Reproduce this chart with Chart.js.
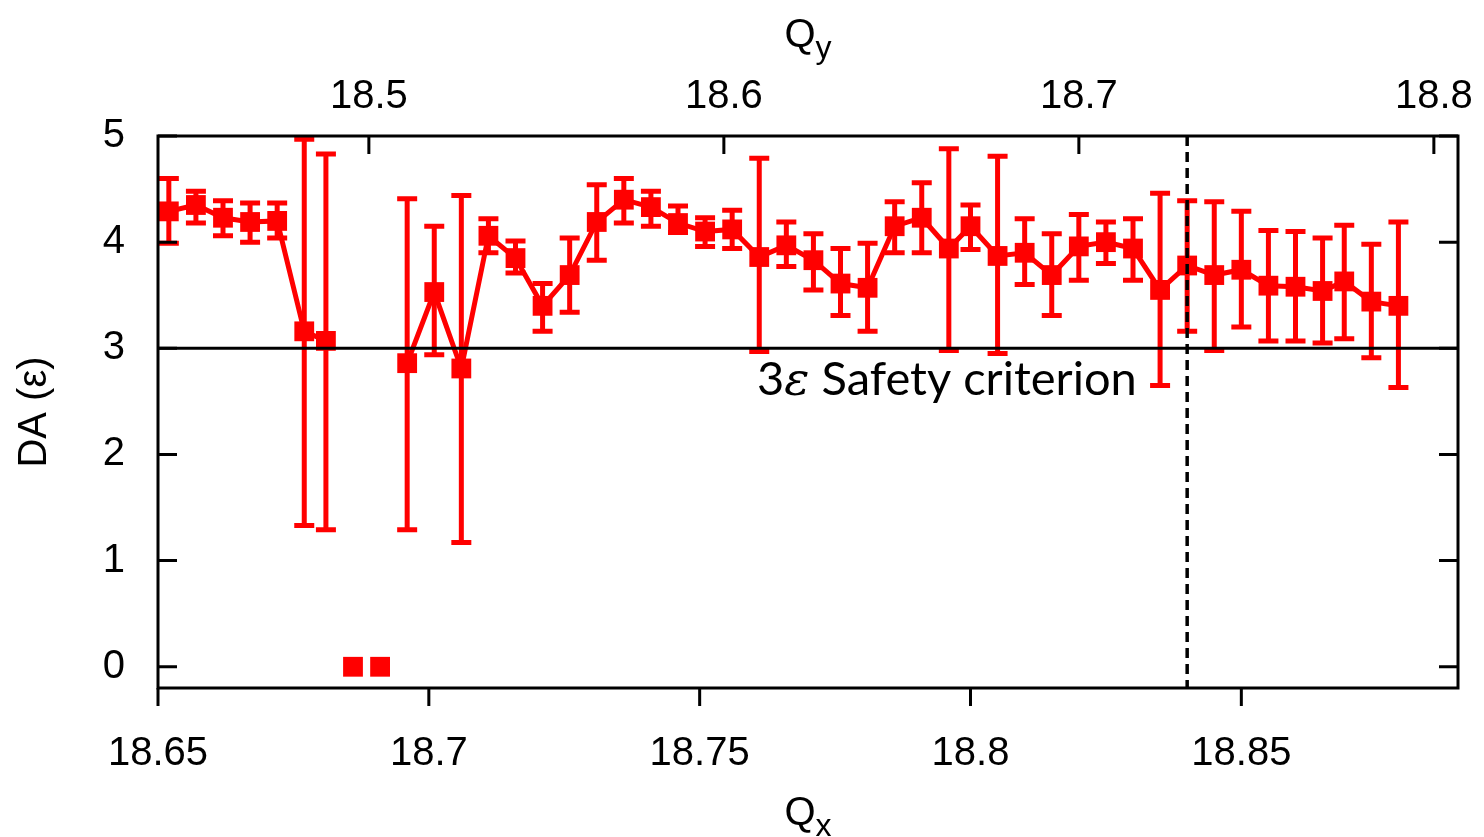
<!DOCTYPE html>
<html lang="en">
<head>
    <meta charset="UTF-8">
    <title>DA vs working point</title>
    <script src="https://cdn.jsdelivr.net/npm/chart.js"></script>
    <style>
        body { margin: 0; background: #fff; }
        .chart-box { width: 1484px; height: 837px; }
    </style>
</head>
<body>
    <div class="chart-box"><canvas id="daChart"></canvas></div>

    <script>
        // horizontal tune of each scanned working point
        const qx = [18.652, 18.657, 18.662, 18.667, 18.672, 18.677, 18.681, 18.686, 18.691, 18.696,
                    18.701, 18.706, 18.711, 18.716, 18.721, 18.726, 18.731, 18.736, 18.741, 18.746,
                    18.751, 18.756, 18.761, 18.766, 18.771, 18.776, 18.781, 18.786, 18.791, 18.796,
                    18.800, 18.805, 18.810, 18.815, 18.820, 18.825, 18.830, 18.835, 18.840, 18.845,
                    18.850, 18.855, 18.860, 18.865, 18.869, 18.874, 18.879];
        // dynamic aperture (units of emittance), with error bar ends
        const da = [4.29, 4.35, 4.23, 4.19, 4.20, 3.16, 3.07, 0, 0, 2.86,
                    3.53, 2.81, 4.06, 3.85, 3.40, 3.69, 4.19, 4.40, 4.33, 4.18,
                    4.10, 4.12, 3.86, 3.97, 3.83, 3.61, 3.57, 4.15, 4.23, 3.94,
                    4.15, 3.87, 3.90, 3.69, 3.96, 4.00, 3.94, 3.55, 3.78, 3.69,
                    3.74, 3.59, 3.58, 3.54, 3.63, 3.44, 3.40];
        const daHigh = [4.60, 4.48, 4.39, 4.37, 4.37, 4.97, 4.83, null, null, 4.41,
                        4.15, 4.44, 4.22, 4.01, 3.61, 4.04, 4.54, 4.60, 4.48, 4.34,
                        4.23, 4.30, 4.79, 4.19, 4.08, 3.94, 3.99, 4.38, 4.56, 4.88,
                        4.35, 4.81, 4.22, 4.08, 4.26, 4.19, 4.22, 4.46, 4.39, 4.38,
                        4.29, 4.11, 4.10, 4.04, 4.16, 3.98, 4.19];
        const daLow = [3.99, 4.18, 4.06, 4.00, 4.04, 1.33, 1.29, null, null, 1.29,
                       2.94, 1.17, 3.90, 3.71, 3.16, 3.34, 3.83, 4.18, 4.15, 4.09,
                       3.96, 3.94, 2.97, 3.77, 3.55, 3.31, 3.16, 3.90, 3.90, 2.98,
                       3.93, 2.95, 3.60, 3.31, 3.64, 3.80, 3.64, 2.65, 3.16, 2.98,
                       3.20, 3.07, 3.07, 3.05, 3.09, 2.91, 2.63];

        const qxTicks = [18.65, 18.7, 18.75, 18.8, 18.85];
        const qyTicks = [18.5, 18.6, 18.7, 18.8];
        const daTicks = [0, 1, 2, 3, 4, 5];
        const safetyLevel = 3;
        const designQx = 18.84;

        const RED = "#ff0000";
        const FONT = '"Liberation Sans", Arial, sans-serif';

        // line breaks where the aperture collapsed to zero
        const lineData = qx.map((x, i) => ({ x: x, y: da[i] > 0 ? da[i] : null }));
        const lostData = qx.map((x, i) => ({ x: x, y: da[i] })).filter(p => p.y === 0);

        function fixTicks(values) {
            return function (scale) { scale.ticks = values.map(v => ({ value: v })); };
        }
        function fmt(v) { return String(+v.toFixed(2)); }
        // fixed box sizes so the plot frame lands where the original has it
        function fitTo(prop, size) {
            return function (s) { s[prop] = size; s.paddingLeft = 0; s.paddingRight = 0; };
        }

        const errorBars = {
            id: "errorBars",
            beforeDatasetsDraw(chart) {
                const ctx = chart.ctx, xs = chart.scales.x, ys = chart.scales.y;
                ctx.save();
                ctx.strokeStyle = RED;
                ctx.lineWidth = 5;
                for (let i = 0; i < qx.length; i++) {
                    if (daHigh[i] == null) continue;
                    const x = xs.getPixelForValue(qx[i]);
                    const yt = ys.getPixelForValue(daHigh[i]);
                    const yb = ys.getPixelForValue(daLow[i]);
                    ctx.beginPath();
                    ctx.moveTo(x, yt); ctx.lineTo(x, yb);
                    ctx.moveTo(x - 10, yt); ctx.lineTo(x + 10, yt);
                    ctx.moveTo(x - 10, yb); ctx.lineTo(x + 10, yb);
                    ctx.stroke();
                }
                ctx.restore();
            }
        };

        function subTitle(ctx, main, sub, cx, base) {
            ctx.font = "40px " + FONT;
            const w1 = ctx.measureText(main).width;
            ctx.font = "32px " + FONT;
            const w2 = ctx.measureText(sub).width;
            const x0 = cx - (w1 + w2) / 2;
            ctx.font = "40px " + FONT;
            ctx.fillText(main, x0, base);
            ctx.font = "32px " + FONT;
            ctx.fillText(sub, x0 + w1, base + 11);
        }

        const frame = {
            id: "frame",
            afterDatasetsDraw(chart) {
                const ctx = chart.ctx, a = chart.chartArea;
                const xs = chart.scales.x, x2 = chart.scales.x2, ys = chart.scales.y;
                ctx.save();
                ctx.strokeStyle = "#000";
                ctx.lineWidth = 3;

                // 3 sigma line
                const ySafe = ys.getPixelForValue(safetyLevel);
                ctx.beginPath();
                ctx.moveTo(a.left, ySafe); ctx.lineTo(a.right, ySafe);
                ctx.stroke();

                // design working point
                const xd = xs.getPixelForValue(designQx);
                ctx.lineWidth = 3.5;
                ctx.setLineDash([10, 6]);
                ctx.beginPath();
                ctx.moveTo(xd, a.top); ctx.lineTo(xd, a.bottom);
                ctx.stroke();
                ctx.setLineDash([]);
                ctx.lineWidth = 3;

                // box and tick marks
                ctx.strokeRect(a.left, a.top, a.right - a.left, a.bottom - a.top);
                ctx.beginPath();
                qxTicks.forEach(v => {
                    const p = xs.getPixelForValue(v);
                    ctx.moveTo(p, a.bottom); ctx.lineTo(p, a.bottom + 18);
                });
                qyTicks.forEach(v => {
                    const p = x2.getPixelForValue(v);
                    ctx.moveTo(p, a.top); ctx.lineTo(p, a.top + 18);
                });
                daTicks.forEach(v => {
                    const p = ys.getPixelForValue(v);
                    ctx.moveTo(a.left, p); ctx.lineTo(a.left + 19, p);
                    ctx.moveTo(a.right, p); ctx.lineTo(a.right - 19, p);
                });
                ctx.stroke();

                // axis titles with subscripts
                ctx.fillStyle = "#000";
                ctx.textAlign = "left";
                ctx.textBaseline = "alphabetic";
                const cx = (a.left + a.right) / 2;
                subTitle(ctx, "Q", "x", cx, 825);
                subTitle(ctx, "Q", "y", cx, 47);

                // annotation
                const size = 47;
                let x = 757;
                const base = 395;
                ctx.font = size + 'px Lato, "Open Sans", sans-serif';
                ctx.fillText("3", x, base);
                x += ctx.measureText("3").width;
                ctx.font = "italic " + size + 'px "DejaVu Serif", serif';
                ctx.fillText("ε", x, base);
                x += ctx.measureText("ε").width;
                ctx.font = size + 'px Lato, "Open Sans", sans-serif';
                ctx.fillText(" Safety criterion", x, base);
                ctx.restore();
            }
        };

        const tickFont = { family: FONT, size: 40 };

        new Chart(document.getElementById("daChart"), {
            type: "line",
            data: {
                datasets: [
                    {
                        data: lineData,
                        borderColor: RED,
                        borderWidth: 5,
                        backgroundColor: RED,
                        pointStyle: "rect",
                        pointRadius: 14,
                        pointBorderWidth: 0,
                        pointBackgroundColor: RED,
                        spanGaps: false,
                        tension: 0
                    },
                    {
                        data: lostData,
                        showLine: false,
                        pointStyle: "rect",
                        pointRadius: 14,
                        pointBorderWidth: 0,
                        pointBackgroundColor: RED
                    }
                ]
            },
            options: {
                responsive: true,
                maintainAspectRatio: false,
                animation: false,
                events: [],
                layout: { padding: { right: 26 } },
                plugins: { legend: { display: false }, tooltip: { enabled: false } },
                scales: {
                    x: {
                        type: "linear", position: "bottom", min: 18.65, max: 18.89,
                        afterBuildTicks: fixTicks(qxTicks),
                        afterFit: fitTo("height", 149),
                        grid: { display: false }, border: { display: false },
                        ticks: { font: tickFont, color: "#000", padding: 34, maxRotation: 0, autoSkip: false, callback: fmt }
                    },
                    x2: {
                        type: "linear", position: "top", min: 18.4406, max: 18.8068,
                        afterBuildTicks: fixTicks(qyTicks),
                        afterFit: fitTo("height", 136),
                        grid: { display: false }, border: { display: false },
                        ticks: { font: tickFont, color: "#000", padding: 7, maxRotation: 0, autoSkip: false, callback: fmt }
                    },
                    y: {
                        min: -0.2, max: 5,
                        afterBuildTicks: fixTicks(daTicks),
                        afterFit: s => { s.width = 158; },
                        grid: { display: false }, border: { display: false },
                        ticks: { font: tickFont, color: "#000", padding: 25 },
                        title: { display: true, text: "DA (ε)", color: "#000", font: tickFont, padding: { top: 11 } }
                    }
                }
            },
            plugins: [errorBars, frame]
        });
    </script>
</body>
</html>
